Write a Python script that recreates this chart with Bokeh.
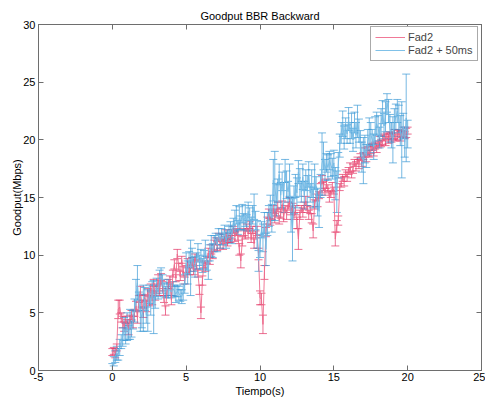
from bokeh.plotting import figure
from bokeh.models import (Whisker, TeeHead, ColumnDataSource, LinearAxis,
                          FixedTicker, Range1d, Legend, LegendItem)
from bokeh.embed import file_html
from bokeh.resources import INLINE

title_text = "Goodput BBR Backward"
x_label = "Tiempo(s)"
y_label = "Goodput(Mbps)"
series_names = ["Fad2", "Fad2 + 50ms"]
x_ticks = [-5, 0, 5, 10, 15, 20, 25]
y_ticks = [0, 5, 10, 15, 20, 25, 30]

time_s = [round(i * 0.1, 1) for i in range(201)]

fad2 = [
    1.6, 1.7, 1.5, 2.0, 5.3, 5.5, 4.6, 4.2, 3.8, 4.4,
    4.0, 3.6, 4.5, 4.8, 4.2, 5.0, 5.6, 4.6, 6.2, 6.9,
    5.8, 5.0, 6.3, 5.6, 6.8, 6.0, 7.2, 6.1, 7.6, 6.5,
    7.0, 7.9, 6.8, 8.1, 7.3, 6.2, 5.2, 6.8, 7.5, 7.9,
    6.1, 8.4, 9.2, 8.0, 10.1, 9.0, 8.2, 9.6, 8.6, 7.8,
    8.8, 9.3, 8.6, 9.0, 9.5, 8.7, 9.8, 9.2, 8.4, 7.0,
    5.0, 7.8, 9.2, 9.0, 9.6, 10.2, 9.5, 10.5, 10.0, 10.9,
    11.2, 10.8, 11.6, 11.0, 11.5, 10.9, 11.3, 11.8, 11.1, 11.5,
    11.4, 11.8, 12.2, 11.6, 12.0, 11.7, 10.5, 9.5, 11.2, 12.0,
    11.8, 12.4, 11.9, 12.6, 11.5, 12.2, 11.0, 11.8, 12.1, 10.1,
    6.3, 6.2, 4.0, 8.5, 12.0, 13.0, 13.6, 12.9, 13.5, 14.0,
    13.2, 13.7, 14.2, 13.0, 13.6, 14.4, 13.3, 14.0, 13.5, 14.3,
    14.6, 13.8, 14.1, 13.4, 13.9, 12.8, 11.4, 13.5, 14.0, 13.7,
    14.3, 14.7, 14.0, 13.5, 13.9, 13.2, 12.1, 14.4, 15.0, 14.6,
    15.2, 15.8, 16.6, 16.0, 15.5, 16.2, 15.8, 15.0, 15.3, 15.9,
    15.6, 11.4, 12.5, 13.0, 15.9, 16.3, 16.7, 16.4, 17.1, 16.8,
    17.3, 17.6, 17.0, 17.5, 18.0, 17.7, 18.2, 17.9, 18.5, 18.1,
    18.6, 18.9, 18.4, 19.0, 18.8, 19.2, 19.4, 19.0, 19.5, 19.3,
    19.6, 19.9, 19.7, 20.0, 20.2, 19.9, 20.3, 20.1, 20.4, 20.2,
    20.3, 20.5, 20.2, 20.4, 20.6, 20.3, 20.5, 20.7, 20.4, 20.6,
    20.8,
]
fad2_err = [
    0.3, 0.3, 0.4, 0.3, 0.8, 0.6, 0.4, 0.5, 0.4, 0.3,
    0.4, 0.5, 0.3, 0.4, 0.5, 0.3, 0.4, 0.5, 0.3, 0.4,
    0.3, 0.4, 0.3, 0.5, 0.3, 0.4, 0.3, 0.4, 0.3, 0.4,
    0.3, 0.4, 0.3, 0.3, 0.4, 0.3, 0.4, 0.3, 0.4, 0.3,
    0.4, 0.3, 0.4, 0.3, 0.4, 0.3, 0.4, 0.3, 0.4, 0.3,
    0.3, 0.4, 0.3, 0.4, 0.3, 0.4, 0.3, 0.4, 0.3, 0.4,
    0.5, 0.4, 0.3, 0.4, 0.3, 0.4, 0.3, 0.4, 0.3, 0.4,
    0.3, 0.4, 0.3, 0.4, 0.3, 0.4, 0.3, 0.4, 0.3, 0.4,
    0.3, 0.4, 0.3, 0.4, 0.3, 0.4, 0.5, 0.6, 0.4, 0.3,
    0.4, 0.3, 0.4, 0.3, 0.4, 0.3, 0.4, 0.3, 0.4, 0.5,
    0.6, 0.5, 0.8, 0.6, 0.4, 0.3, 0.4, 0.3, 0.4, 0.3,
    0.4, 0.3, 0.4, 0.3, 0.4, 0.3, 0.4, 0.3, 0.4, 0.3,
    0.4, 0.3, 0.4, 0.3, 0.4, 0.5, 0.9, 0.4, 0.3, 0.4,
    0.3, 0.4, 0.3, 0.4, 0.3, 0.4, 0.6, 0.4, 0.3, 0.4,
    0.3, 0.4, 0.3, 0.4, 0.3, 0.4, 0.3, 0.4, 0.3, 0.4,
    0.3, 0.6, 0.5, 0.4, 0.3, 0.4, 0.3, 0.4, 0.3, 0.4,
    0.3, 0.4, 0.3, 0.4, 0.3, 0.4, 0.3, 0.4, 0.3, 0.4,
    0.3, 0.4, 0.3, 0.4, 0.3, 0.4, 0.3, 0.4, 0.3, 0.4,
    0.3, 0.4, 0.3, 0.4, 0.3, 0.4, 0.3, 0.4, 0.3, 0.4,
    0.3, 0.4, 0.3, 0.4, 0.3, 0.4, 0.3, 0.4, 0.3, 0.4,
    0.3,
]

fad2_50ms = [
    0.3, 0.8, 1.2, 1.5, 1.4, 2.0, 2.5, 2.9, 3.6, 3.2,
    3.8, 3.3, 4.0, 3.6, 4.4, 5.2, 6.5, 7.6, 6.0, 5.0,
    4.6, 5.4, 6.2, 4.8, 5.2, 6.6, 5.8, 7.0, 5.5, 6.4,
    7.2, 6.8, 7.8, 8.2, 7.5, 7.0, 6.8, 7.2, 6.9, 7.0,
    6.8, 7.1, 6.9, 6.6, 6.9, 6.7, 6.5, 6.4, 6.8, 7.5,
    9.3, 8.5, 9.6, 8.9, 9.8, 9.2, 9.0, 9.5, 10.2, 9.4,
    9.8, 9.1, 9.6, 10.6, 9.3, 8.7, 10.2, 10.8, 10.4, 11.0,
    11.4, 10.9, 11.8, 11.2, 11.6, 11.4, 12.0, 11.3, 11.7, 11.9,
    12.2, 11.8, 12.6, 13.0, 13.5, 12.4, 13.2, 12.8, 13.6, 12.9,
    13.4, 12.8, 13.8, 13.1, 12.7, 13.5, 14.2, 13.0, 11.8, 9.5,
    10.8, 12.2, 11.5, 12.8, 10.5, 12.7, 13.4, 14.1, 13.2, 16.5,
    16.0, 14.8, 15.6, 17.0, 15.2, 16.4, 15.0, 17.3, 16.1, 15.5,
    16.5, 13.5, 12.2, 14.8, 16.0, 15.4, 17.2, 16.3, 15.5, 16.8,
    15.2, 16.5, 15.6, 17.0, 15.4, 16.2, 15.0, 16.8, 15.5, 14.6,
    13.8, 16.0, 17.9, 18.6, 17.4, 18.0, 17.6, 18.2, 17.8, 17.5,
    18.0, 16.2, 15.5, 17.8, 19.5, 20.6, 21.4, 20.2, 21.0, 20.5,
    21.8, 20.6, 21.2, 20.0, 21.5, 20.4, 21.6, 20.8, 19.6, 18.5,
    18.2, 19.2, 18.6, 19.8, 20.4, 20.5, 20.0, 19.4, 20.8, 21.4,
    21.0, 20.2, 21.5, 22.4, 21.2, 22.0, 23.2, 22.5, 21.0, 20.4,
    20.0, 21.5, 22.0, 22.5, 21.8, 20.8, 20.0, 21.2, 19.8, 21.9,
    20.5,
]
fad2_50ms_err = [
    0.3, 0.4, 0.5, 0.6, 0.5, 0.7, 0.6, 0.8, 1.0, 0.9,
    1.2, 0.6, 1.3, 0.7, 0.8, 1.0, 1.4, 1.5, 0.8, 1.6,
    0.9, 2.0, 1.0, 0.7, 1.8, 0.8, 1.0, 0.7, 2.3, 1.0,
    0.8, 0.6, 0.9, 0.7, 0.8, 0.6, 0.5, 0.7, 0.6, 0.5,
    0.5, 0.6, 0.5, 0.7, 0.5, 0.6, 0.5, 0.6, 0.7, 0.8,
    0.9, 1.0, 0.7, 2.4, 0.8, 0.6, 0.9, 0.7, 0.8, 0.6,
    0.7, 0.6, 0.8, 0.7, 0.6, 0.8, 0.7, 0.9, 0.6, 0.7,
    0.5, 0.6, 0.5, 0.6, 0.7, 0.5, 0.6, 0.7, 0.5, 0.6,
    0.7, 0.8, 0.6, 0.9, 0.8, 0.6, 1.0, 0.6, 0.8, 0.7,
    0.9, 0.7, 0.8, 1.0, 0.6, 0.8, 1.1, 0.8, 1.2, 0.9,
    1.0, 0.7, 1.2, 0.9, 1.4, 1.0, 0.9, 1.1, 1.2, 1.8,
    3.0, 1.4, 1.0, 0.9, 1.1, 0.8, 1.3, 1.0, 1.2, 0.9,
    1.4, 1.5, 2.7, 1.2, 1.0, 1.3, 1.0, 1.2, 0.9, 1.1,
    1.2, 0.9, 1.3, 1.1, 0.8, 1.2, 0.9, 1.1, 1.3, 1.2,
    1.4, 1.0, 2.7, 1.2, 0.9, 0.8, 1.1, 0.8, 1.0, 0.9,
    1.1, 1.4, 1.8, 1.1, 1.0, 0.9, 1.1, 1.0, 0.9, 0.8,
    1.0, 0.9, 1.1, 1.0, 0.9, 1.1, 1.4, 1.0, 1.2, 1.3,
    2.0, 1.2, 1.0, 1.1, 1.5, 1.0, 0.9, 1.1, 1.2, 1.0,
    1.1, 0.9, 1.2, 1.0, 1.1, 1.3, 0.8, 1.0, 1.2, 1.1,
    2.0, 1.2, 1.1, 1.0, 1.2, 1.3, 3.3, 1.1, 1.3, 3.8,
    1.2,
]

RED_LINE = "#EE6A8C"
RED_BAR = "#E33364"
BLUE_LINE = "#72BAE6"
BLUE_BAR = "#3C9AD6"
AXIS = "#6E6E6E"
FONT = "Liberation Sans"

p = figure(width=485, height=401, output_backend="svg", toolbar_location=None,
           x_range=Range1d(-5, 25), y_range=Range1d(0, 30),
           min_border_left=38, min_border_right=4, min_border_top=24,
           min_border_bottom=31)
p.background_fill_color = "white"
p.border_fill_color = "white"
p.outline_line_color = AXIS
p.grid.visible = False

p.title.text = title_text
p.title.align = "center"
p.title.text_font = FONT
p.title.text_font_size = "11px"
p.title.text_font_style = "normal"
p.title.text_color = "#000000"
p.title.standoff = 6
p.title.offset = 0


def make_source(t, v, e):
    lo = [a - b for a, b in zip(v, e)]
    hi = [a + b for a, b in zip(v, e)]
    return ColumnDataSource(dict(t=t, v=v, lo=lo, hi=hi))


src_r = make_source(time_s, fad2, fad2_err)
src_b = make_source(time_s, fad2_50ms, fad2_50ms_err)

r_red = p.line("t", "v", source=src_r, line_color=RED_LINE, line_width=1, line_alpha=0.9)
w_red = Whisker(base="t", upper="hi", lower="lo", source=src_r, line_color=RED_BAR,
                line_alpha=0.7, line_width=1,
                upper_head=TeeHead(size=8, line_color=RED_BAR, line_alpha=0.7),
                lower_head=TeeHead(size=8, line_color=RED_BAR, line_alpha=0.7))
p.add_layout(w_red)

r_blue = p.line("t", "v", source=src_b, line_color=BLUE_LINE, line_width=1, line_alpha=0.9)
w_blue = Whisker(base="t", upper="hi", lower="lo", source=src_b, line_color=BLUE_BAR,
                 line_alpha=0.7, line_width=1,
                 upper_head=TeeHead(size=8, line_color=BLUE_BAR, line_alpha=0.7),
                 lower_head=TeeHead(size=8, line_color=BLUE_BAR, line_alpha=0.7))
p.add_layout(w_blue)

for ax in p.xaxis + p.yaxis:
    ax.axis_line_color = AXIS
    ax.major_tick_line_color = AXIS
    ax.major_tick_in = 5
    ax.major_tick_out = 0
    ax.minor_tick_line_color = None
    ax.major_label_text_font = FONT
    ax.major_label_text_font_size = "11px"
    ax.major_label_text_color = "#000000"
    ax.axis_label_text_font = FONT
    ax.axis_label_text_font_size = "11px"
    ax.axis_label_text_font_style = "normal"
    ax.axis_label_text_color = "#000000"

p.xaxis.ticker = FixedTicker(ticks=x_ticks)
p.yaxis.ticker = FixedTicker(ticks=y_ticks)
p.xaxis.major_label_overrides = {t: str(t) for t in x_ticks}
p.xaxis.axis_label = x_label
p.yaxis.axis_label = y_label
p.xaxis.major_label_standoff = 2
p.xaxis.axis_label_standoff = 1
p.yaxis.major_label_standoff = 3
p.yaxis.axis_label_standoff = -3

top_ax = LinearAxis(ticker=FixedTicker(ticks=x_ticks),
                    major_label_overrides={t: "" for t in x_ticks},
                    axis_line_color=AXIS, major_tick_line_color=AXIS, major_tick_in=5,
                    major_tick_out=0, minor_tick_line_color=None, major_label_standoff=0)
right_ax = LinearAxis(ticker=FixedTicker(ticks=y_ticks),
                      major_label_overrides={t: "" for t in y_ticks},
                      axis_line_color=AXIS, major_tick_line_color=AXIS, major_tick_in=5,
                      major_tick_out=0, minor_tick_line_color=None, major_label_standoff=0)
p.add_layout(top_ax, "above")
p.add_layout(right_ax, "right")

legend = Legend(items=[LegendItem(label=series_names[0], renderers=[r_red]),
                       LegendItem(label=series_names[1], renderers=[r_blue])],
                location=(332, 309), label_text_font=FONT, label_text_font_size="11px",
                glyph_width=30, glyph_height=12, label_height=12, spacing=1,
                padding=4, margin=0, label_standoff=3,
                border_line_color="#555555", background_fill_color="white",
                background_fill_alpha=1.0)
p.add_layout(legend)

open("out.html", "w").write(file_html(p, INLINE))
